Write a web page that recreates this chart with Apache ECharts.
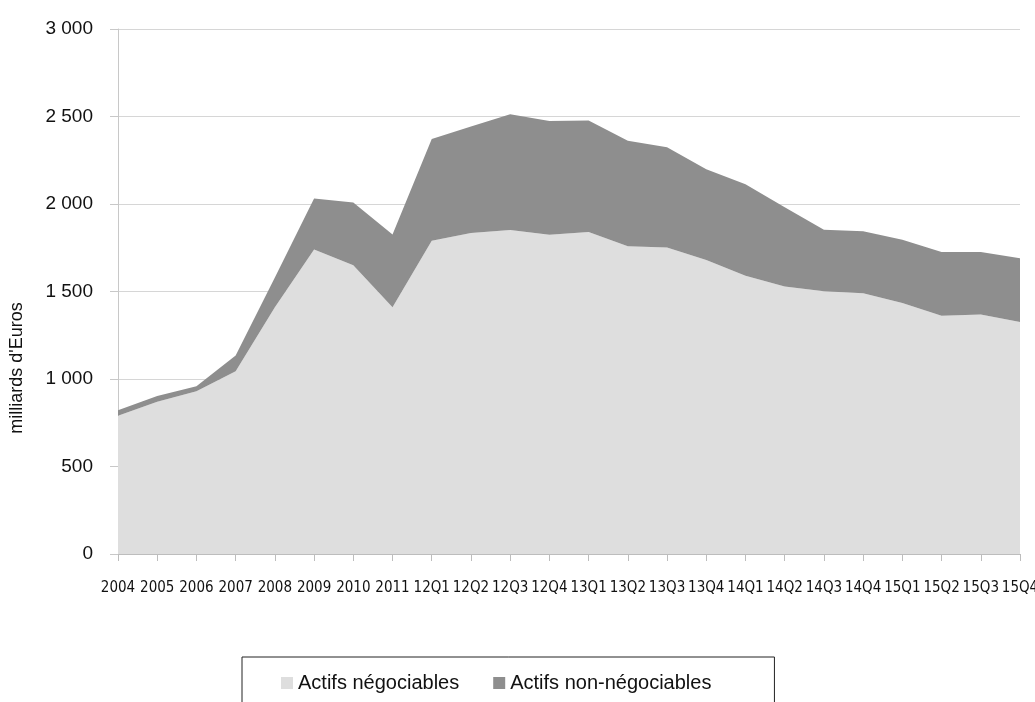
<!DOCTYPE html>
<html>
<head>
<meta charset="utf-8">
<script src="https://cdn.jsdelivr.net/npm/echarts@6/dist/echarts.min.js"></script>
<style>
  html, body { margin: 0; padding: 0; background: #fff; }
  #main { width: 1035px; height: 702px; }
</style>
</head>
<body>
<div id="main"></div>
<script>
// periodes (annuelles puis trimestrielles)
var categories = ['2004', '2005', '2006', '2007', '2008', '2009', '2010', '2011',
    '12Q1', '12Q2', '12Q3', '12Q4', '13Q1', '13Q2', '13Q3', '13Q4',
    '14Q1', '14Q2', '14Q3', '14Q4', '15Q1', '15Q2', '15Q3', '15Q4'];

// milliards d'euros
var negociables = [790, 870, 930, 1045, 1410, 1740, 1650, 1410,
    1790, 1835, 1852, 1825, 1840, 1758, 1752, 1680,
    1590, 1528, 1502, 1490, 1434, 1362, 1368, 1326];
var nonNegociables = [32, 33, 28, 90, 170, 292, 358, 416,
    582, 608, 661, 650, 637, 604, 573, 518,
    523, 453, 351, 355, 362, 364, 358, 364];

var yTicks = [0, 500, 1000, 1500, 2000, 2500, 3000];

var lightGrey = '#dedede';
var darkGrey = '#8e8e8e';

var myChart = echarts.init(document.getElementById('main'));

function areaSerie(name, data, color) {
    return {
        name: name,
        type: 'line',
        stack: 'total',
        data: data,
        symbol: 'none',
        lineStyle: {width: 0},
        areaStyle: {color: color, opacity: 1},
        itemStyle: {color: color},
        emphasis: {disabled: true}
    };
}

var option = {
    animation: false,
    backgroundColor: '#fff',
    textStyle: {fontFamily: 'Liberation Sans, Arial, sans-serif'},
    grid: {
        left: 118,
        right: 15,
        top: 29,
        bottom: 148,
        outerBoundsMode: 'none'
    },
    legend: {
        left: 242,
        top: 657,
        padding: [16, 63, 20, 39],
        itemGap: 34,
        itemWidth: 12,
        itemHeight: 12,
        borderColor: '#222',
        borderWidth: 1,
        icon: 'rect',
        textStyle: {fontSize: 20, color: '#111', fontFamily: 'Liberation Sans, Arial, sans-serif'},
        data: ['Actifs négociables', 'Actifs non-négociables']
    },
    graphic: [{
        type: 'text',
        x: 17,
        y: 368,
        rotation: Math.PI / 2,
        style: {
            text: "milliards d'Euros",
            fill: '#111',
            font: '18px "Liberation Sans", Arial, sans-serif',
            align: 'center',
            verticalAlign: 'middle'
        }
    }],
    xAxis: {
        type: 'category',
        boundaryGap: false,
        data: categories,
        axisLine: {lineStyle: {color: '#bdbdbd'}},
        axisTick: {show: true, length: 7, alignWithLabel: true, lineStyle: {color: '#bdbdbd'}},
        axisLabel: {
            interval: 0,
            margin: 27,
            color: '#111',
            fontSize: 15,
            fontFamily: '"DejaVu Sans Condensed", "Liberation Sans Narrow", sans-serif'
        },
        splitLine: {show: false}
    },
    yAxis: {
        type: 'value',
        min: yTicks[0],
        max: yTicks[yTicks.length - 1],
        interval: 500,
        axisLine: {show: true, lineStyle: {color: '#c8c8c8'}},
        axisTick: {show: true, length: 8, lineStyle: {color: '#c8c8c8'}},
        axisLabel: {
            margin: 25,
            color: '#111',
            fontSize: 19,
            formatter: function (v) {
                return String(v).replace(/\B(?=(\d{3})+(?!\d))/g, ' ');
            }
        },
        splitLine: {lineStyle: {color: '#d6d6d6'}}
    },
    series: [
        areaSerie('Actifs négociables', negociables, lightGrey),
        areaSerie('Actifs non-négociables', nonNegociables, darkGrey)
    ]
};

myChart.setOption(option);
</script>
</body>
</html>
